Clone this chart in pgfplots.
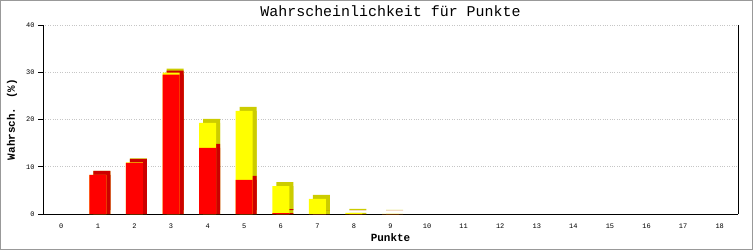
\documentclass[border=0pt]{standalone}
\usepackage{fontspec}
\setmainfont{Liberation Mono}
\usepackage{pgfplots}
\usepackage{pgfplotstable}
\pgfplotsset{compat=1.18}
\definecolor{frontred}{HTML}{FF0000}
\definecolor{sidered}{HTML}{CC0000}
\definecolor{frontyel}{HTML}{FFFF00}
\definecolor{sideyel}{HTML}{CCCC00}
\pgfplotstableread{
x red yellow
1 8.3 0.0
2 10.8 0.15
3 29.5 0.4
4 14.0 5.3
5 7.2 14.6
6 0.2 5.7
7 0.0 3.2
8 0.0 0.25
9 0.0 0.05
}\datatable
\begin{document}
\begin{tikzpicture}[x=1bp,y=1bp]
\path[draw=gray!80, line width=1.5bp] (0.75,0.75) rectangle (752.25,249.25);
\begin{axis}[
  at={(43bp,36bp)}, anchor=south west,
  scale only axis, width=695bp, height=189bp,
  xmin=-0.5, xmax=18.5, ymin=0, ymax=40,
  axis x line*=bottom, axis y line*=box,
  axis line style={black, line width=1bp},
  xtick={0,...,18}, ytick={0,10,20,30,40},
  xtick style={draw=none},
  ytick pos=left, tick align=outside, major tick length=5bp,
  ytick style={black, line width=1bp},
  ymajorgrids, grid style={dotted, gray!45, line width=1bp},
  /pgf/number format/assume math mode=true,
  ticklabel style={font=\fontsize{7}{8}\selectfont},
  xticklabel style={yshift=-1bp},
  title={Wahrscheinlichkeit für Punkte},
  title style={at={(axis description cs:0.5,1)}, anchor=center, yshift=8bp, font=\fontsize{15}{15}\selectfont},
  xlabel={Punkte},
  every axis x label/.style={at={(axis description cs:0.5,0)}, anchor=center, yshift=-24bp, font=\fontsize{11}{11}\bfseries},
  ylabel={Wahrsch. (\%)},
  every axis y label/.style={at={(axis description cs:0,0.5)}, anchor=center, xshift=-31bp, rotate=90, font=\fontsize{11}{11}\bfseries},
  ybar, bar width=17bp, bar shift=0pt,
  clip=false,
]
\addplot[draw=none, fill=sideyel, xshift=4bp, yshift=4bp] table[x=x, y expr=\thisrow{red}+\thisrow{yellow}] {\datatable};
\addplot[draw=none, fill=sideyel, xshift=4bp] table[x=x, y expr=\thisrow{red}+\thisrow{yellow}] {\datatable};
\addplot[draw=none, fill=sidered, xshift=4bp, yshift=4bp] table[x=x, y=red] {\datatable};
\addplot[draw=none, fill=sidered, xshift=4bp] table[x=x, y=red] {\datatable};
\addplot[draw=none, fill=frontyel] table[x=x, y expr=\thisrow{red}+\thisrow{yellow}] {\datatable};
\addplot[draw=none, fill=frontred] table[x=x, y=red] {\datatable};
\end{axis}
\end{tikzpicture}
\end{document}
